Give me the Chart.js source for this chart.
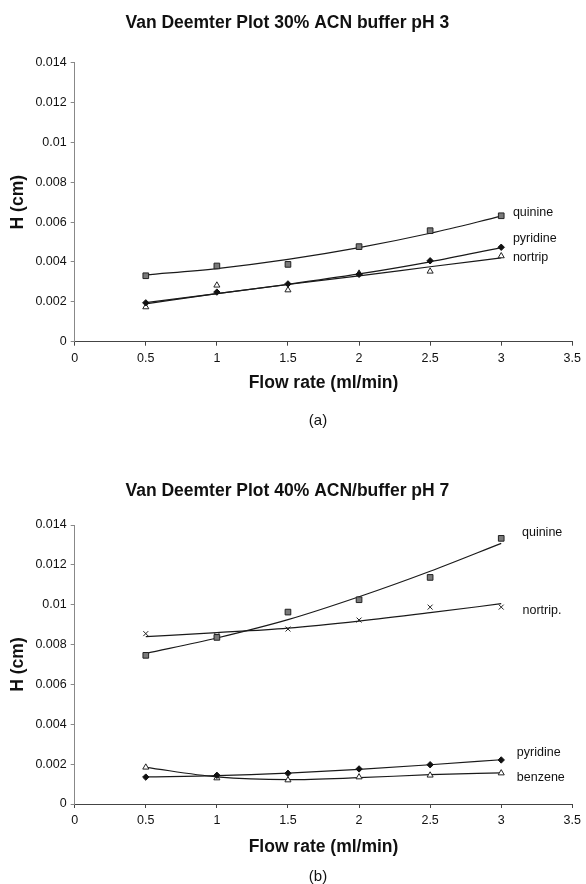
<!DOCTYPE html>
<html>
<head>
<meta charset="utf-8">
<script src="https://cdn.jsdelivr.net/npm/chart.js@4.4.1/dist/chart.umd.min.js"></script>
<style>
  body { margin: 0; background: #fff; }
  #page { position: relative; width: 586px; height: 884px; background: #fff; font-family: "Liberation Sans", Arial, sans-serif; }
  canvas { position: absolute; left: 0; }
  .cap { position: absolute; width: 100px; text-align: center; font-size: 15px; line-height: 17px; color: #111; }
</style>
</head>
<body>
<div id="page">
  <canvas id="chartA" width="586" height="440" style="top:0"></canvas>
  <canvas id="chartB" width="586" height="444" style="top:440px"></canvas>
  <div class="cap" style="left:268px; top:411px">(a)</div>
  <div class="cap" style="left:268px; top:867px">(b)</div>
</div>
<script>
// flow rates (ml/min)
const flowRates = [0.5, 1, 1.5, 2, 2.5, 3];
const xTickLabels = ["0", "0.5", "1", "1.5", "2", "2.5", "3", "3.5"];
const yTickLabels = ["0", "0.002", "0.004", "0.006", "0.008", "0.01", "0.012", "0.014"];

// (a) 30% ACN buffer pH 3 - measured H (cm)
const quinineA = [0.00331, 0.0038, 0.00388, 0.00477, 0.00557, 0.00632];
const pyridineA = [0.00195, 0.00249, 0.0029, 0.00338, 0.00406, 0.00474];
const nortripA = [0.00174, 0.00283, 0.00259, 0.00343, 0.00353, 0.0043];
// (a) trend lines
const quinineFitA = [0.00335, 0.00367, 0.00413, 0.00472, 0.00544, 0.0063];
const pyridineFitA = [0.00196, 0.00241, 0.00288, 0.0034, 0.00401, 0.00472];
const nortripFitA = [0.0019, 0.00241, 0.00287, 0.0033, 0.00376, 0.00421];

// (b) 40% ACN/buffer pH 7 - measured H (cm)
const quinineB = [0.00746, 0.00836, 0.00963, 0.01025, 0.01137, 0.01333];
const nortripB = [0.00855, 0.00845, 0.00878, 0.00923, 0.00988, 0.00988];
const pyridineB = [0.00135, 0.00144, 0.00154, 0.00176, 0.00197, 0.00221];
const benzeneB = [0.00184, 0.0013, 0.0012, 0.00135, 0.00144, 0.00155];
// (b) trend lines
const quinineFitB = [0.00755, 0.00833, 0.00925, 0.0104, 0.01168, 0.01308];
const nortripFitB = [0.0084, 0.0086, 0.00883, 0.00918, 0.0096, 0.01005];
const pyridineFitB = [0.00136, 0.00142, 0.00155, 0.00174, 0.00197, 0.00222];
const benzeneFitB = [0.00184, 0.00136, 0.00122, 0.00132, 0.00147, 0.00156];

const FONT = '"Liberation Sans", Arial, sans-serif';
Chart.defaults.font.family = FONT;
Chart.defaults.color = "#111";

const markerStyles = {
  quinine: { pointStyle: "rect", pointRadius: 4, pointBackgroundColor: "#7a7a7a", pointBorderColor: "#222", pointBorderWidth: 1 },
  pyridine: { pointStyle: "rectRot", pointRadius: 3.2, pointBackgroundColor: "#111", pointBorderColor: "#111", pointBorderWidth: 1 },
  triangle: { pointStyle: "triangle", pointRadius: 3.5, pointBackgroundColor: "#fff", pointBorderColor: "#222", pointBorderWidth: 1 },
  cross: { pointStyle: "crossRot", pointRadius: 3.5, pointBackgroundColor: "#fff", pointBorderColor: "#222", pointBorderWidth: 1 },
};

function toPoints(values) {
  return values.map((v, i) => ({ x: flowRates[i], y: v }));
}

function markers(values, style) {
  return Object.assign({ data: toPoints(values), showLine: false }, style);
}

function trend(values) {
  return {
    data: toPoints(values),
    showLine: true,
    pointRadius: 0,
    borderColor: "#1a1a1a",
    borderWidth: 1.2,
    cubicInterpolationMode: "monotone",
    fill: false,
  };
}

const seriesLabels = {
  id: "seriesLabels",
  afterDatasetsDraw(chart, args, opts) {
    const { ctx, scales } = chart;
    ctx.save();
    ctx.font = "12.5px " + FONT;
    ctx.fillStyle = "#111";
    ctx.textBaseline = "middle";
    opts.items.forEach((it) => {
      ctx.fillText(it.text, scales.x.getPixelForValue(it.x), scales.y.getPixelForValue(it.y));
    });
    ctx.restore();
  },
};

function createChart(id, title, datasets, labels, lay) {
  const ctx = document.getElementById(id).getContext("2d");
  return new Chart(ctx, {
    type: "scatter",
    data: { datasets: datasets },
    plugins: [seriesLabels],
    options: {
      responsive: false,
      animation: false,
      devicePixelRatio: 1,
      layout: { padding: { left: 0, top: 0, right: 11.3, bottom: lay.bottomPad } },
      plugins: {
        legend: { display: false },
        tooltip: { enabled: false },
        title: {
          display: true,
          text: title,
          color: "#111",
          font: { size: 17.5, weight: "bold", lineHeight: 1.2 },
          padding: { top: lay.titleTop, bottom: lay.titleBottom },
        },
        seriesLabels: { items: labels },
      },
      scales: {
        x: {
          type: "linear",
          min: 0,
          max: 3.5,
          afterFit: (s) => { s.height = lay.xHeight; },
          ticks: {
            stepSize: 0.5,
            padding: 5,
            color: "#111",
            font: { size: 12.5 },
            callback: (v, i) => xTickLabels[i],
          },
          grid: { drawOnChartArea: false, drawTicks: true, tickLength: 4, color: "#444" },
          border: { display: true, color: "#444", width: 1 },
          title: {
            display: true,
            text: "Flow rate (ml/min)",
            color: "#111",
            font: { size: 17.5, weight: "bold", lineHeight: 1.2 },
            padding: { top: 0, bottom: 0 },
          },
        },
        y: {
          type: "linear",
          min: 0,
          max: 0.014,
          afterFit: (s) => { s.width = 74.7; },
          ticks: {
            stepSize: 0.002,
            padding: 4,
            color: "#111",
            font: { size: 12.5 },
            callback: (v, i) => yTickLabels[i],
          },
          grid: { drawOnChartArea: false, drawTicks: true, tickLength: 4, color: "#888" },
          border: { display: true, color: "#888", width: 1 },
          title: {
            display: true,
            text: "H (cm)",
            color: "#111",
            font: { size: 17.5, weight: "bold", lineHeight: 1.2 },
            padding: { top: 7.5, bottom: 0 },
          },
        },
      },
    },
  });
}

createChart(
  "chartA",
  "Van Deemter Plot 30% ACN buffer pH 3",
  [
    markers(quinineA, markerStyles.quinine),
    markers(pyridineA, markerStyles.pyridine),
    markers(nortripA, markerStyles.triangle),
    trend(quinineFitA),
    trend(pyridineFitA),
    trend(nortripFitA),
  ],
  [
    { text: "quinine", x: 3.082, y: 0.0065 },
    { text: "pyridine", x: 3.082, y: 0.0052 },
    { text: "nortrip", x: 3.082, y: 0.0042 },
  ],
  { titleTop: 12.5, titleBottom: 29.2, xHeight: 52, bottomPad: 46.3 }
);

createChart(
  "chartB",
  "Van Deemter Plot 40% ACN/buffer pH 7",
  [
    markers(quinineB, markerStyles.quinine),
    markers(pyridineB, markerStyles.pyridine),
    markers(nortripB, markerStyles.cross),
    markers(benzeneB, markerStyles.triangle),
    trend(quinineFitB),
    trend(nortripFitB),
    trend(pyridineFitB),
    trend(benzeneFitB),
  ],
  [
    { text: "quinine", x: 3.146, y: 0.0136 },
    { text: "nortrip.", x: 3.15, y: 0.0097 },
    { text: "pyridine", x: 3.11, y: 0.0026 },
    { text: "benzene", x: 3.11, y: 0.00135 },
  ],
  { titleTop: 40.5, titleBottom: 23.5, xHeight: 53.5, bottomPad: 26.5 }
);
</script>
</body>
</html>
